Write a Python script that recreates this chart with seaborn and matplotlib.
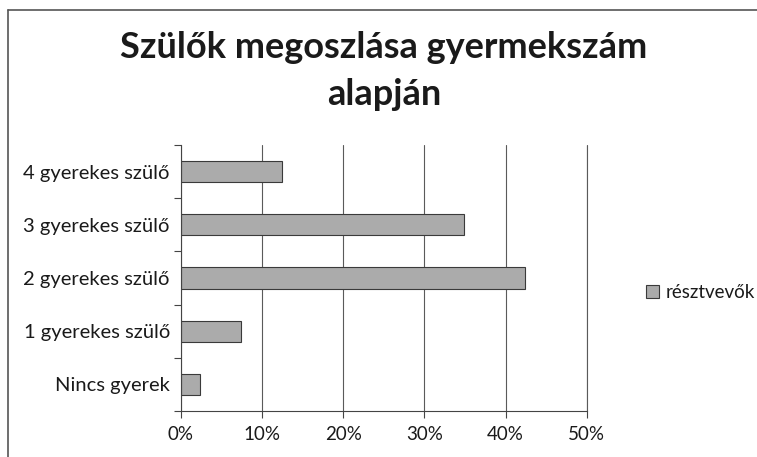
import matplotlib
matplotlib.use('Agg')
import matplotlib.pyplot as plt
import seaborn as sns
from matplotlib.lines import Line2D
from matplotlib.ticker import PercentFormatter, FixedLocator

# Data
categories = ['4 gyerekes szülő', '3 gyerekes szülő', '2 gyerekes szülő',
              '1 gyerekes szülő', 'Nincs gyerek']
values = [12.4, 34.9, 42.4, 7.4, 2.3]
series_name = 'résztvevők'
title = 'Szülők megoszlása gyermekszám\nalapján'
x_ticks = [0, 10, 20, 30, 40, 50]

sns.set_style('white')
plt.rcParams['font.family'] = ['Lato', 'DejaVu Sans']

fig = plt.figure(figsize=(7.57, 4.57), dpi=100)
ax = fig.add_axes([0.239, 0.1007, 0.536, 0.582])

sns.barplot(x=values, y=categories, color='#ababab', edgecolor='#3a3a3a',
            linewidth=0.8, width=0.4, saturation=1, label=series_name, ax=ax)

ax.set_xlim(x_ticks[0], x_ticks[-1])
ax.set_xticks(x_ticks)
ax.xaxis.set_major_formatter(PercentFormatter(decimals=0))
ax.set_xlabel('')
ax.set_ylabel('')
ax.grid(axis='x', color='#5a5a5a', linewidth=0.8)
ax.set_axisbelow(True)
# last gridline sits on the axes edge
ax.axvline(x_ticks[-1], color='#5a5a5a', linewidth=0.8, clip_on=False, zorder=0.5)

# category boundary ticks like Excel
ax.yaxis.set_minor_locator(FixedLocator([i - 0.5 for i in range(len(categories) + 1)]))
ax.tick_params(axis='y', which='major', length=0, pad=8, labelsize=14.5, colors='#1a1a1a')
ax.tick_params(axis='y', which='minor', length=5, width=0.8, color='#444444', left=True)
ax.tick_params(axis='x', which='major', length=5, width=0.8, color='#444444',
               bottom=True, labelsize=13.5, labelcolor='#1a1a1a', pad=6)

for side in ['top', 'right']:
    ax.spines[side].set_visible(False)
for side in ['left', 'bottom']:
    ax.spines[side].set_color('#444444')
    ax.spines[side].set_linewidth(0.8)

fig.text(0.507, 0.845, title, ha='center', va='center', fontsize=26,
         fontweight='bold', color='#1a1a1a', linespacing=1.5)

leg = ax.legend(loc='center left', bbox_to_anchor=(0.843, 0.36),
                bbox_transform=fig.transFigure, frameon=False, fontsize=13.5,
                handlelength=0.7, handleheight=0.7, handletextpad=0.35,
                borderaxespad=0)
for t in leg.get_texts():
    t.set_color('#1a1a1a')

# frame lines of the cropped chart area
fig.add_artist(Line2D([0.0106, 0.0106], [0, 0.978], color='#555555', linewidth=1.2))
fig.add_artist(Line2D([0.0106, 1.0], [0.978, 0.978], color='#555555', linewidth=1.2))

fig.savefig('out.png', dpi=100)
plt.close(fig)
